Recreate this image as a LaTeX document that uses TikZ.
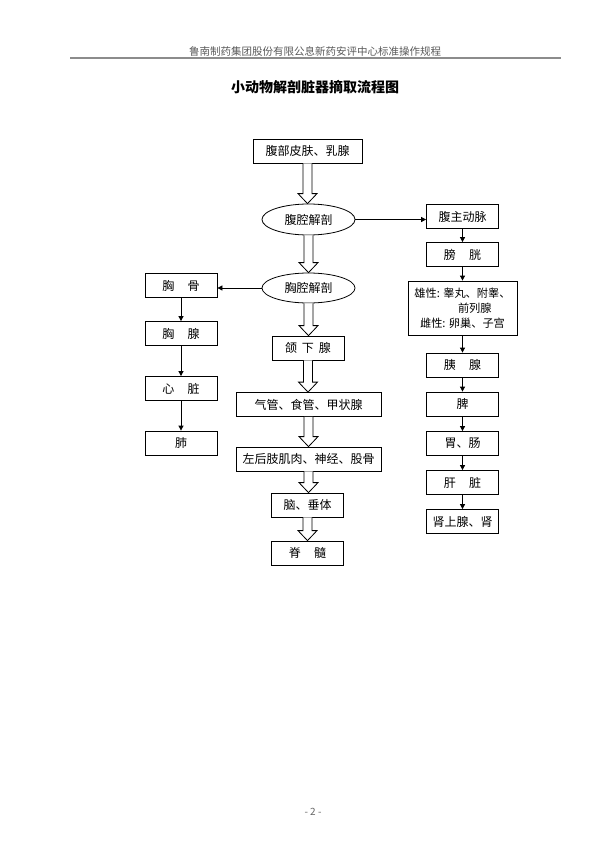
\documentclass[tikz,border=0pt]{standalone}
\usepackage{fontspec}
\setmainfont{Noto Sans CJK SC}
\usetikzlibrary{shapes.geometric,arrows.meta,calc}
\tikzset{
  box/.style={draw, line width=0.8pt, minimum width=72pt, minimum height=24pt, inner sep=0pt, font=\fontsize{12}{14}\selectfont},
  widebox/.style={box, minimum width=145pt},
  oval/.style={draw, ellipse, line width=0.8pt, minimum width=93pt, minimum height=31pt, inner sep=0pt, font=\fontsize{12}{14}\selectfont},
  conn/.style={line width=0.8pt, -{Triangle[length=5pt,width=5pt]}},
  hollow/.style={draw, fill=white, line width=0.8pt, line join=miter},
}
\newcommand\hollowarr[2]{\draw[hollow] let \p1=(#1.south), \p2=(#2.north) in
  (\x1-4.5pt,\y1) -- (\x1-4.5pt,\y2+10pt) -- (\x1-9.5pt,\y2+10pt) -- (\x1,\y2)
  -- (\x1+9.5pt,\y2+10pt) -- (\x1+4.5pt,\y2+10pt) -- (\x1+4.5pt,\y1);}
\begin{document}
\begin{tikzpicture}[x=1pt,y=-1pt]
\useasboundingbox (0,0) rectangle (600,849);
% header
\node[text=black!65, font=\fontsize{10.5}{12}\selectfont] (hdr) at (315,51) {鲁南制药集团股份有限公息新药安评中心标准操作规程};
\coordinate (hl) at (70,58);
\coordinate (hr) at (561,58);
\draw[line width=2pt, black!45] (hl) -- (hr);
\node[font=\fontsize{14}{16}\selectfont\bfseries] (title) at (315,87) {小动物解剖脏器摘取流程图};

% middle column
\node[box, minimum width=109pt] (skin) at (307.5,151) {腹部皮肤、乳腺};
\node[oval] (e1) at (308.5,219.5) {腹腔解剖};
\node[oval, minimum height=30pt] (e2) at (308.5,288) {胸腔解剖};
\node[box] (subm) at (308,348) {颌\hspace{0.4em}下\hspace{0.4em}腺};
\node[widebox] (trach) at (308.5,404.5) {气管、食管、甲状腺};
\node[widebox] (limb) at (308.5,459) {左后肢肌肉、神经、股骨};
\node[box] (brain) at (307.5,505) {脑、垂体};
\node[box] (spine) at (307.5,553) {脊\hspace{1.1em}髓};

% right column
\node[box] (aorta) at (462.5,216.5) {腹主动脉};
\node[box] (bladder) at (462.5,254.5) {膀\hspace{1.1em}胱};
\node[box, minimum width=109pt, minimum height=54pt, align=center, font=\fontsize{11.2}{15.2}\selectfont] (sex) at (462.5,308) {雄性: 睾丸、附睾、\\\hspace*{2.2em}前列腺\\雌性: 卵巢、子宫};
\node[box] (pancreas) at (462.5,365) {胰\hspace{1.1em}腺};
\node[box] (spleen) at (462.5,404) {脾};
\node[box] (stomach) at (462.5,443.5) {胃、肠};
\node[box] (liver) at (462.5,482.5) {肝\hspace{1.1em}脏};
\node[box] (adrenal) at (462.5,521.5) {肾上腺、肾};

% left column
\node[box] (sternum) at (181,285.5) {胸\hspace{1.1em}骨};
\node[box] (thymus) at (181,333.5) {胸\hspace{1.1em}腺};
\node[box] (heart) at (181,388.5) {心\hspace{1.1em}脏};
\node[box] (lung) at (181,443) {肺};

% hollow arrows
\hollowarr{skin}{e1}
\hollowarr{e1}{e2}
\hollowarr{e2}{subm}
\hollowarr{subm}{trach}
\hollowarr{trach}{limb}
\hollowarr{limb}{brain}
\hollowarr{brain}{spine}

% thin arrows
\draw[conn] (e1.east) -- (aorta.west |- e1.east);
\draw[conn] (e2.west) -- (sternum.east |- e2.west);
\draw[conn] (aorta) -- (bladder);
\draw[conn] (bladder) -- (sex);
\draw[conn] (sex) -- (pancreas);
\draw[conn] (pancreas) -- (spleen);
\draw[conn] (spleen) -- (stomach);
\draw[conn] (stomach) -- (liver);
\draw[conn] (liver) -- (adrenal);
\draw[conn] (sternum) -- (thymus);
\draw[conn] (thymus) -- (heart);
\draw[conn] (heart) -- (lung);

% page number
\node[text=black!60, font=\fontsize{10}{11}\selectfont] (pg) at (313,812) {- 2 -};
\end{tikzpicture}
\end{document}
